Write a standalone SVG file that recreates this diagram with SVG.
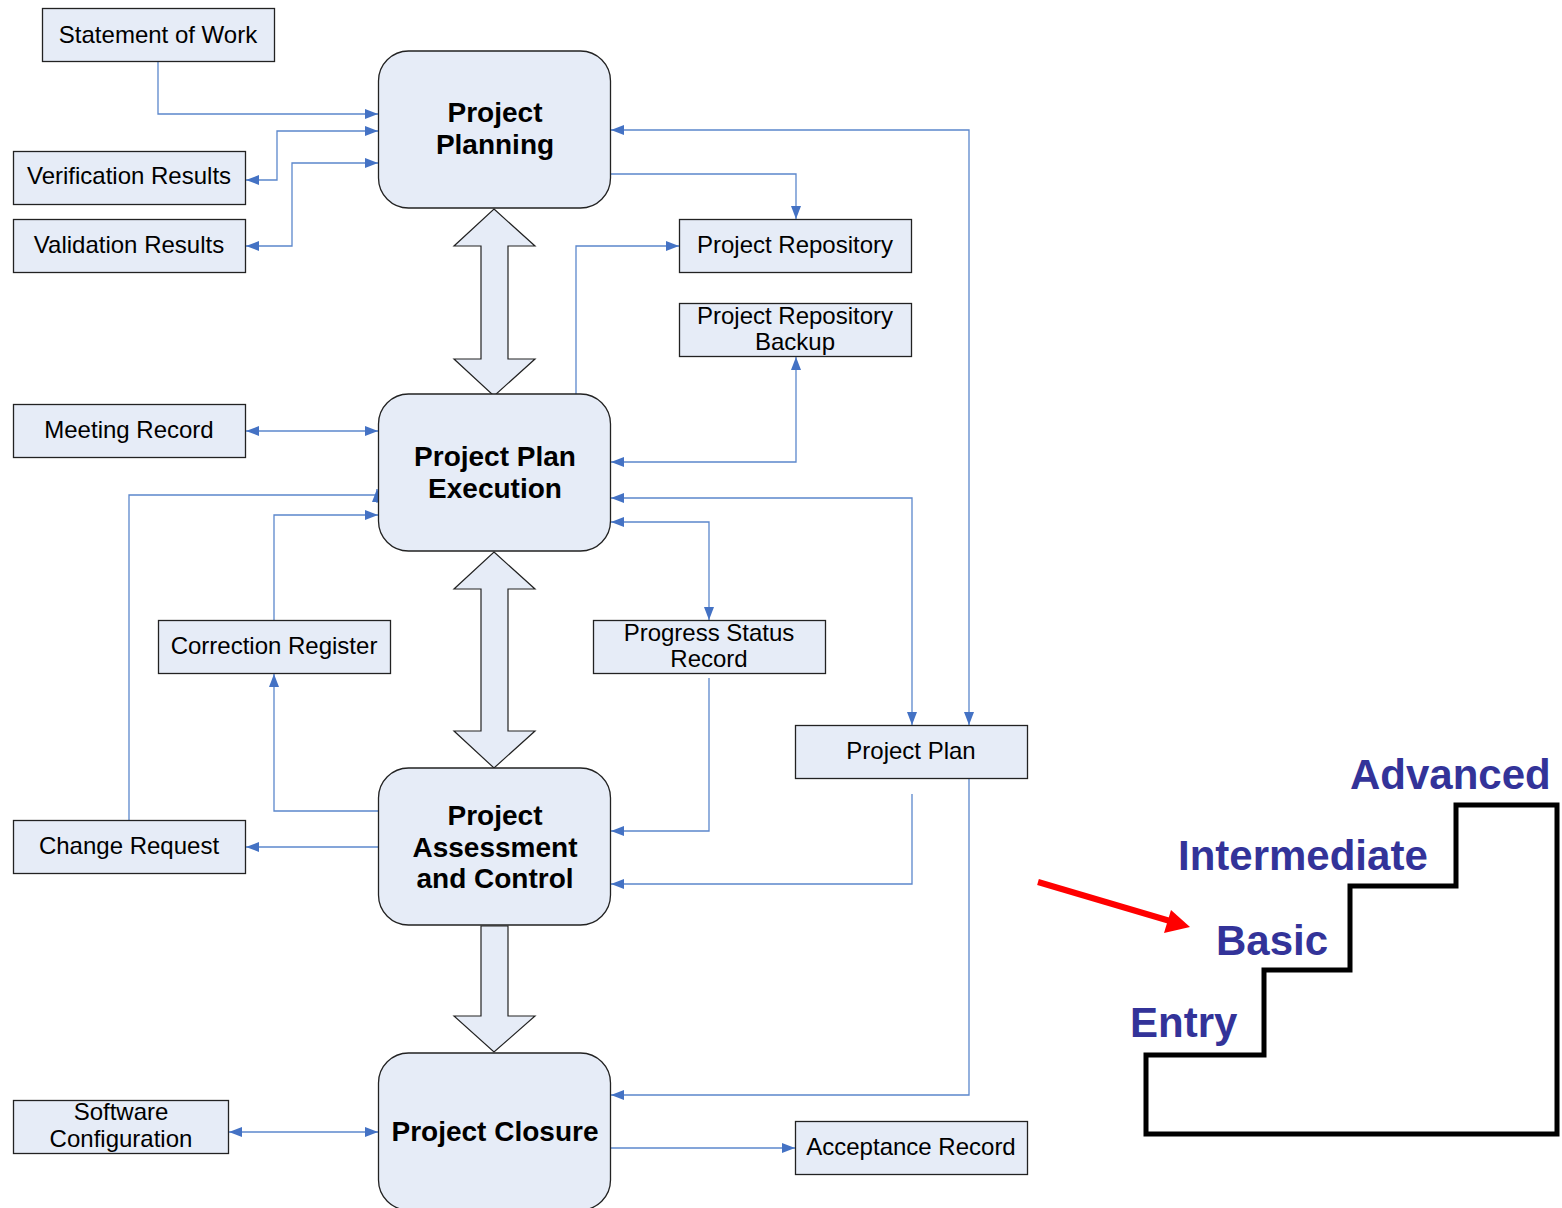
<svg xmlns="http://www.w3.org/2000/svg" width="1562" height="1208" viewBox="0 0 1562 1208">
<defs>
<style>
.node rect.main{fill:#E6ECF7;stroke:#222;stroke-width:1.3}
.node rect.box{fill:#E6ECF7;stroke:#222;stroke-width:1.3}
.mt{font-family:"Liberation Sans",Arial,sans-serif;font-weight:bold;font-size:28px;fill:#000;text-anchor:middle}
.bt{font-family:"Liberation Sans",Arial,sans-serif;font-size:24px;fill:#000;text-anchor:middle}
.conn path{fill:none;stroke:#5B87CC;stroke-width:1.3}
.block{fill:#E6ECF7;stroke:#222;stroke-width:1.2}
.lvl{font-family:"Liberation Sans",Arial,sans-serif;font-weight:bold;font-size:42px;fill:#333399}
</style>
<marker id="ah" viewBox="0 0 13 10" refX="13" refY="5" markerWidth="13" markerHeight="10" markerUnits="userSpaceOnUse" orient="auto-start-reverse">
<path d="M0,0 L13,5 L0,10 Z" fill="#4472C4"/>
</marker>
</defs>
<rect width="1562" height="1208" fill="#fff"/>

<g id="connectors" class="conn">
<path d="M158,61 V114 H378" marker-end="url(#ah)"/>
<path d="M246,180 H277 V131 H378" marker-start="url(#ah)" marker-end="url(#ah)"/>
<path d="M246,246 H292 V163 H378" marker-start="url(#ah)" marker-end="url(#ah)"/>
<path d="M611,130 H969 V725" marker-start="url(#ah)" marker-end="url(#ah)"/>
<path d="M611,174 H796 V219" marker-end="url(#ah)"/>
<path d="M576,394 V246 H679" marker-end="url(#ah)"/>
<path d="M611,462 H796 V357" marker-start="url(#ah)" marker-end="url(#ah)"/>
<path d="M611,498 H912 V725" marker-start="url(#ah)" marker-end="url(#ah)"/>
<path d="M611,522 H709 V620" marker-start="url(#ah)" marker-end="url(#ah)"/>
<path d="M246,431 H378" marker-start="url(#ah)" marker-end="url(#ah)"/>
<path d="M129,820 V495 H377"/>
<path d="M377,503 V489" marker-end="url(#ah)"/>
<path d="M274,620 V515 H378" marker-end="url(#ah)"/>
<path d="M378,811 H274 V674" marker-end="url(#ah)"/>
<path d="M378,847 H246" marker-end="url(#ah)"/>
<path d="M709,678 V831 H611" marker-end="url(#ah)"/>
<path d="M912,794 V884 H611" marker-end="url(#ah)"/>
<path d="M969,779 V1095 H611" marker-end="url(#ah)"/>
<path d="M229,1132 H378" marker-start="url(#ah)" marker-end="url(#ah)"/>
<path d="M611,1148 H795" marker-end="url(#ah)"/>
</g>

<g id="block-arrows">
<path class="block" d="M494,209 L535,246 L508,246 L508,359 L535,359 L494,396 L454,359 L481,359 L481,246 L454,246 Z"/>
<path class="block" d="M494,552 L535,589 L508,589 L508,731 L535,731 L494,768 L454,731 L481,731 L481,589 L454,589 Z"/>
<path class="block" d="M481,926 L508,926 L508,1016 L535,1016 L494,1052 L454,1016 L481,1016 Z"/>
</g>

<g id="project-planning" class="node">
<rect class="main" x="378.5" y="51" width="232" height="157" rx="30"/>
<text class="mt" x="495" y="122">Project</text>
<text class="mt" x="495" y="154">Planning</text>
</g>
<g id="project-plan-execution" class="node">
<rect class="main" x="378.5" y="394" width="232" height="157" rx="30"/>
<text class="mt" x="495" y="466">Project Plan</text>
<text class="mt" x="495" y="498">Execution</text>
</g>
<g id="project-assessment" class="node">
<rect class="main" x="378.5" y="768" width="232" height="157" rx="30"/>
<text class="mt" x="495" y="825">Project</text>
<text class="mt" x="495" y="857">Assessment</text>
<text class="mt" x="495" y="888">and Control</text>
</g>
<g id="project-closure" class="node">
<rect class="main" x="378.5" y="1053" width="232" height="157" rx="30"/>
<text class="mt" x="495" y="1141">Project Closure</text>
</g>

<g id="statement-of-work" class="node">
<rect class="box" x="42.5" y="8.5" width="232" height="53"/>
<text class="bt" x="158" y="43">Statement of Work</text>
</g>
<g id="verification-results" class="node">
<rect class="box" x="13.5" y="151.5" width="232" height="53"/>
<text class="bt" x="129" y="184">Verification Results</text>
</g>
<g id="validation-results" class="node">
<rect class="box" x="13.5" y="219.5" width="232" height="53"/>
<text class="bt" x="129" y="253">Validation Results</text>
</g>
<g id="project-repository" class="node">
<rect class="box" x="679.5" y="219.5" width="232" height="53"/>
<text class="bt" x="795" y="253">Project Repository</text>
</g>
<g id="project-repository-backup" class="node">
<rect class="box" x="679.5" y="303.5" width="232" height="53"/>
<text class="bt" x="795" y="324">Project Repository</text>
<text class="bt" x="795" y="350">Backup</text>
</g>
<g id="meeting-record" class="node">
<rect class="box" x="13.5" y="404.5" width="232" height="53"/>
<text class="bt" x="129" y="438">Meeting Record</text>
</g>
<g id="correction-register" class="node">
<rect class="box" x="158.5" y="620.5" width="232" height="53"/>
<text class="bt" x="274" y="654">Correction Register</text>
</g>
<g id="progress-status-record" class="node">
<rect class="box" x="593.5" y="620.5" width="232" height="53"/>
<text class="bt" x="709" y="641">Progress Status</text>
<text class="bt" x="709" y="667">Record</text>
</g>
<g id="project-plan" class="node">
<rect class="box" x="795.5" y="725.5" width="232" height="53"/>
<text class="bt" x="911" y="759">Project Plan</text>
</g>
<g id="change-request" class="node">
<rect class="box" x="13.5" y="820.5" width="232" height="53"/>
<text class="bt" x="129" y="854">Change Request</text>
</g>
<g id="software-configuration" class="node">
<rect class="box" x="13.5" y="1100.5" width="215" height="53"/>
<text class="bt" x="121" y="1120">Software</text>
<text class="bt" x="121" y="1147">Configuration</text>
</g>
<g id="acceptance-record" class="node">
<rect class="box" x="795.5" y="1121.5" width="232" height="53"/>
<text class="bt" x="911" y="1155">Acceptance Record</text>
</g>

<g id="stairs">
<path d="M1146,1134 V1055 H1264 V970 H1350 V886 H1456 V805 H1557 V1134 Z" fill="none" stroke="#000" stroke-width="5" stroke-linejoin="miter"/>
<text class="lvl" x="1350" y="789">Advanced</text>
<text class="lvl" x="1178" y="870">Intermediate</text>
<text class="lvl" x="1216" y="955">Basic</text>
<text class="lvl" x="1130" y="1037">Entry</text>
<line x1="1038" y1="882" x2="1170" y2="921" stroke="#FF0000" stroke-width="6"/>
<path d="M1190,927 L1164,933 L1171,910 Z" fill="#FF0000"/>
</g>
</svg>
